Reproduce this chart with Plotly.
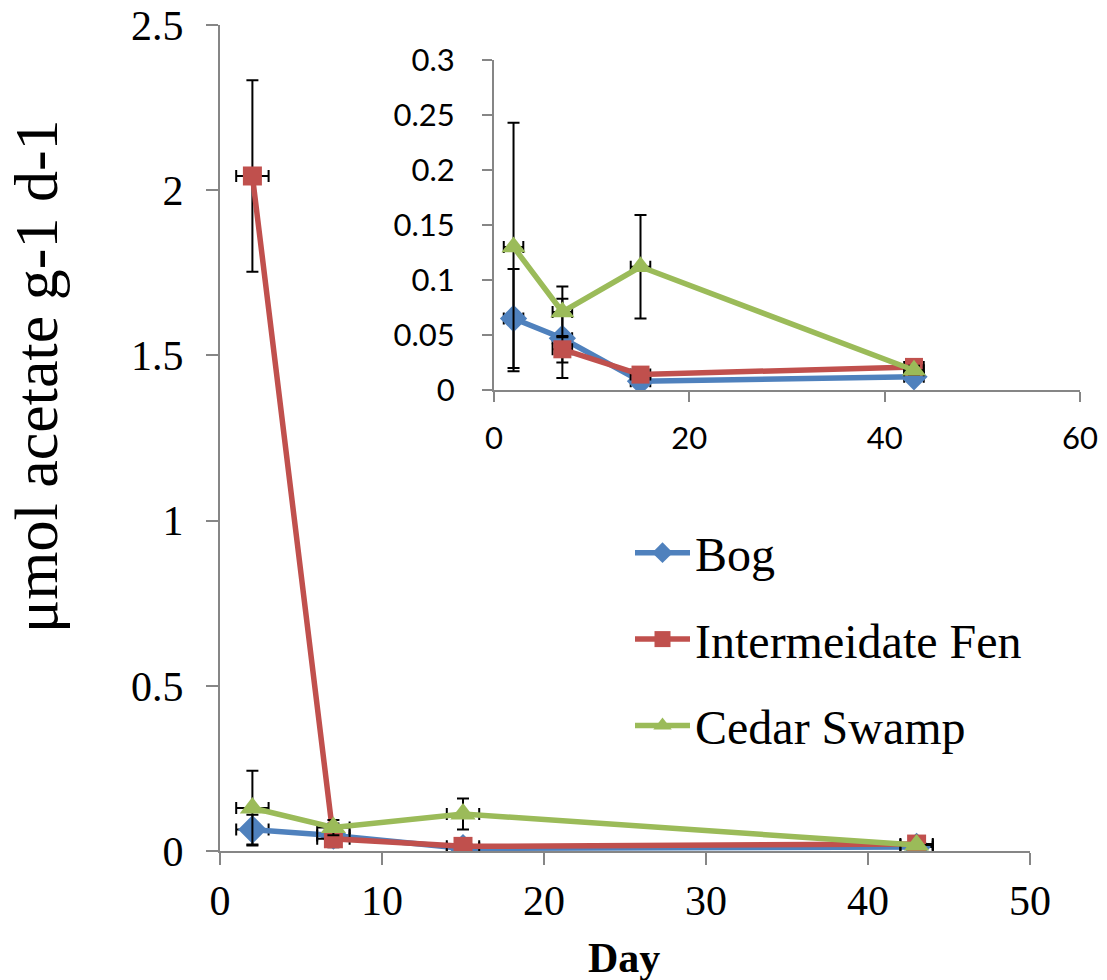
import plotly.graph_objects as go

days = [2, 7, 15, 43]
day_err = [1, 1, 1, 1]

bog = [0.065, 0.047, 0.008, 0.012]
bog_err = [0.045, 0.036, 0.004, 0.004]

fen = [2.043, 0.037, 0.014, 0.021]
fen_err = [0.29, 0.012, 0.003, 0.003]

cedar = [0.130, 0.071, 0.112, 0.018]
cedar_err = [0.113, 0.023, 0.047, 0.004]

names = ["Bog", "Intermeidate Fen", "Cedar Swamp"]
colors = ["#4F81BD", "#C0504D", "#9BBB59"]
symbols = ["diamond", "square", "triangle-up"]
sizes = [22, 19, 22]
series = [bog, fen, cedar]
errs = [bog_err, fen_err, cedar_err]

INSET_MAX = 0.3

W, H = 1107, 980
def px_x(p):
    return p / W
def px_y(p):
    return 1 - p / H

fig = go.Figure()

for i in range(3):
    for inset in (False, True):
        ys = series[i]
        es = errs[i]
        if inset:
            ys = [v if v <= INSET_MAX else None for v in series[i]]
            es = [e if v <= INSET_MAX else None for v, e in zip(series[i], errs[i])]
        fig.add_trace(go.Scatter(
            x=days, y=ys,
            mode="lines+markers",
            name=names[i],
            legendgroup=names[i],
            showlegend=not inset,
            connectgaps=False,
            line=dict(color=colors[i], width=5.5),
            marker=dict(symbol=symbols[i], size=sizes[i] if not inset else sizes[i] - 1,
                        color=colors[i]),
            error_y=dict(type="data", array=es, visible=True,
                         color="black", thickness=2, width=6),
            error_x=dict(type="data", array=day_err, visible=True,
                         color="black", thickness=2, width=6),
            xaxis="x2" if inset else "x",
            yaxis="y2" if inset else "y",
        ))

axis_color = "#868686"
main_font = dict(family="Liberation Serif", size=42, color="black")
inset_font = dict(family="Lato", size=31, color="black")

fig.update_layout(
    width=W, height=H, autosize=False,
    margin=dict(l=0, r=0, t=0, b=0, autoexpand=False),
    paper_bgcolor="white", plot_bgcolor="rgba(0,0,0,0)",
    xaxis=dict(domain=[px_x(220), px_x(1030)], range=[0, 50], dtick=10,
               showgrid=False, zeroline=False, showline=True, linecolor=axis_color,
               linewidth=2, ticks="outside", ticklen=12, tickwidth=2, automargin=False,
               tickcolor=axis_color, tickfont=main_font, anchor="y"),
    yaxis=dict(domain=[px_y(851), px_y(25)], range=[0, 2.5], dtick=0.5,
               showgrid=False, zeroline=False, showline=True, linecolor=axis_color,
               linewidth=2, ticks="outside", ticklen=12, tickwidth=2, automargin=False,
               ticklabelstandoff=14,
               tickcolor=axis_color, tickfont=main_font, anchor="x"),
    xaxis2=dict(domain=[px_x(494), px_x(1080)], range=[0, 60], dtick=20,
                showgrid=False, zeroline=False, showline=True, linecolor=axis_color,
                linewidth=2, ticks="outside", ticklen=10, tickwidth=2, automargin=False,
                ticklabelstandoff=10,
                tickcolor=axis_color, tickfont=inset_font, anchor="y2"),
    yaxis2=dict(domain=[px_y(390), px_y(60)], range=[0, 0.3], dtick=0.05,
                showgrid=False, zeroline=False, showline=True, linecolor=axis_color,
                linewidth=2, ticks="outside", ticklen=10, tickwidth=2, automargin=False,
                ticklabelstandoff=21,
                tickcolor=axis_color, tickfont=inset_font, anchor="x2"),
    showlegend=True,
    legend=dict(x=px_x(630), y=px_y(515), xanchor="left", yanchor="top",
                font=dict(family="Liberation Serif", size=48, color="black"),
                bgcolor="rgba(0,0,0,0)", tracegroupgap=21, itemwidth=55),
    annotations=[
        dict(text="μmol acetate g-1 d-1", x=px_x(36), y=px_y(376), xref="paper",
             yref="paper", textangle=-90, showarrow=False, xanchor="center",
             yanchor="middle",
             font=dict(family="Liberation Serif", size=62, color="black")),
        dict(text="<b>Day</b>", x=px_x(624), y=px_y(958), xref="paper", yref="paper",
             showarrow=False, xanchor="center", yanchor="middle",
             font=dict(family="Liberation Serif", size=42, color="black")),
    ],
)

fig.write_html("out.html")
